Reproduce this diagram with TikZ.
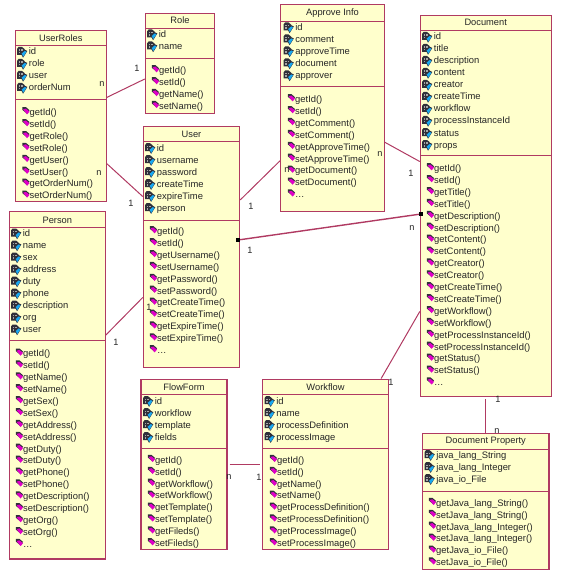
\documentclass[tikz,border=0pt]{standalone}
\usepackage{fontspec}
\setmainfont{Liberation Sans}
\definecolor{umlline}{HTML}{B03A62}
\definecolor{umlfill}{HTML}{FFFFCC}
\definecolor{icondark}{HTML}{30303A}
\definecolor{iconcyan}{HTML}{18A8F0}
\definecolor{iconpink}{HTML}{E000C8}
\tikzset{
  classbox/.style={draw=umlline,fill=umlfill,line width=1.1pt,inner sep=0pt},
  divider/.style={draw=umlline,line width=1pt},
  assoc/.style={draw=umlline,line width=1pt},
  classname/.style={font=\fontsize{9.3}{11}\selectfont,text=black!85,inner sep=0pt},
  rowtext/.style={anchor=west,font=\fontsize{9.4}{11}\selectfont,text=black!85,inner sep=0pt,text height=7pt,text depth=2pt},
  mult/.style={font=\fontsize{9.2}{11}\selectfont,text=black!85,inner sep=0pt},
  endsq/.style={fill=black,inner sep=0pt,minimum size=4pt},
  pics/attricon/.style={code={
    \fill[icondark] (-5.5,-3.5) -- (-4,-5.5) -- (-0.5,-5.5) -- (2,-3.5) -- (2,2.5) -- (-5.5,2.5) -- cycle;
    \fill[black!35] (-4,-3.2) rectangle (-2.4,-1.6);
    \fill[black!35] (-1.4,-3.2) rectangle (0.2,-1.6);
    \fill[black!35] (-4,-0.6) rectangle (-2.4,1);
    \fill[icondark] (-2,0.5) -- (2,-3) -- (4.8,-1.5) -- (0.6,5.2) -- cycle;
    \fill[iconcyan] (-0.8,1) -- (2.2,-1.6) -- (4,-0.8) -- (0.8,4.2) -- cycle;
  }},
  pics/opericon/.style={code={
    \fill[icondark] (-3,-5.8) -- (0.5,-5.8) -- (4,-2.8) -- (1.4,0.6) -- (-3.2,-3.2) -- cycle;
    \fill[iconpink] (-2.4,-3.6) -- (0.4,-4.4) -- (4,-1.4) -- (1.6,1.4) -- cycle;
  }}
}
\newcommand{\attrrows}[4]{%
  \foreach \rowtext [count=\rowi] in {#4} {
    \pic at (#2,{#3+12*(\rowi-1)}) {attricon};
    \node[rowtext] (#1a\rowi) at (#2+6.2,{#3+12*(\rowi-1)}) {\rowtext};
  }}
\newcommand{\operrows}[4]{%
  \foreach \rowtext [count=\rowi] in {#4} {
    \pic at (#2,{#3+11.9*(\rowi-1)}) {opericon};
    \node[rowtext] (#1o\rowi) at (#2+4,{#3+11.9*(\rowi-1)}) {\rowtext};
  }}
\begin{document}
\begin{tikzpicture}[x=1pt,y=-1pt]
  \useasboundingbox (0,0) rectangle (562,575);
  % this one is partly hidden by the box below it
  \node[mult] (mdocpropn) at (497,431) {n};
  % classes
  \node[classbox,minimum width=91pt,minimum height=171.4pt] (userroles) at (60.8,116) {};
  \node[classbox,minimum width=69.4pt,minimum height=100pt] (role) at (180,63.3) {};
  \node[classbox,minimum width=96.4pt,minimum height=241.4pt] (user) at (191.5,247) {};
  \node[classbox,minimum width=103.6pt,minimum height=206.7pt] (approveinfo) at (332.5,108.3) {};
  \node[classbox,minimum width=130.7pt,minimum height=381.4pt] (document) at (485.7,206) {};
  \node[classbox,minimum width=96pt,minimum height=347.3pt] (person) at (57.3,385.3) {};
  \node[classbox,minimum width=86pt,minimum height=170.3pt] (flowform) at (184,464.2) {};
  \node[classbox,minimum width=125.6pt,minimum height=170.3pt] (workflow) at (325.5,464.2) {};
  \node[classbox,minimum width=126.3pt,minimum height=136pt] (docproperty) at (485.8,501.3) {};
  % compartments
  \foreach \cname/\ya/\yb in {userroles/46/99.3,role/28.3/58.7,user/141.7/220,approveinfo/21.3/86.3,document/30.3/155.3,person/227.3/340.7,flowform/394/448.3,workflow/394/448.3,docproperty/449/491.3} {
    \draw[divider] (\cname.west |- 0,\ya) -- (\cname.east |- 0,\ya);
    \draw[divider] (\cname.west |- 0,\yb) -- (\cname.east |- 0,\yb);
  }
  % titles
  \node[classname] (userrolesname) at (60.8,38) {UserRoles};
  \node[classname] (rolename) at (180,20.5) {Role};
  \node[classname] (username) at (191.5,134) {User};
  \node[classname] (approveinfoname) at (332.5,13.5) {Approve Info};
  \node[classname] (documentname) at (485.7,22.5) {Document};
  \node[classname] (personname) at (57.3,220) {Person};
  \node[classname] (flowformname) at (184,386.7) {FlowForm};
  \node[classname] (workflowname) at (325.5,386.7) {Workflow};
  \node[classname] (docpropertyname) at (485.8,441.7) {Document Property};
  % attributes and operations
  \attrrows{userroles}{22.5}{52.5}{id,role,user,orderNum}
  \operrows{userroles}{25.5}{113}{getId(),setId(),getRole(),setRole(),getUser(),setUser(),getOrderNum(),setOrderNum()}
  \attrrows{role}{152.5}{35}{id,name}
  \operrows{role}{155}{71}{getId(),setId(),getName(),setName()}
  \attrrows{user}{150.5}{148.7}{id,username,password,createTime,expireTime,person}
  \operrows{user}{153}{232}{getId(),setId(),getUsername(),setUsername(),getPassword(),setPassword(),getCreateTime(),setCreateTime(),getExpireTime(),setExpireTime(),\ldots}
  \attrrows{approveinfo}{289}{28}{id,comment,approveTime,document,approver}
  \operrows{approveinfo}{291}{100}{getId(),setId(),getComment(),setComment(),getApproveTime(),setApproveTime(),getDocument(),setDocument(),\ldots}
  \attrrows{document}{427.5}{37.5}{id,title,description,content,creator,createTime,workflow,processInstanceId,status,props}
  \operrows{document}{430}{169}{getId(),setId(),getTitle(),setTitle(),getDescription(),setDescription(),getContent(),setContent(),getCreator(),setCreator(),getCreateTime(),setCreateTime(),getWorkflow(),setWorkflow(),getProcessInstanceId(),setProcessInstanceId(),getStatus(),setStatus(),\ldots}
  \attrrows{person}{16.5}{234}{id,name,sex,address,duty,phone,description,org,user}
  \operrows{person}{19}{354.3}{getId(),setId(),getName(),setName(),getSex(),setSex(),getAddress(),setAddress(),getDuty(),setDuty(),getPhone(),setPhone(),getDescription(),setDescription(),getOrg(),setOrg(),\ldots}
  \attrrows{flowform}{148.5}{401.7}{id,workflow,template,fields}
  \operrows{flowform}{151}{460.7}{getId(),setId(),getWorkflow(),setWorkflow(),getTemplate(),setTemplate(),getFileds(),setFileds()}
  \attrrows{workflow}{270}{401.7}{id,name,processDefinition,processImage}
  \operrows{workflow}{273}{460.7}{getId(),setId(),getName(),setName(),getProcessDefinition(),setProcessDefinition(),getProcessImage(),setProcessImage()}
  \attrrows{docproperty}{430}{455.7}{java\_lang\_String,java\_lang\_Integer,java\_io\_File}
  \operrows{docproperty}{432}{503.7}{getJava\_lang\_String(),setJava\_lang\_String(),getJava\_lang\_Integer(),setJava\_lang\_Integer(),getJava\_io\_File(),setJava\_io\_File()}
  % associations
  \draw[assoc] (userroles.22) -- (role.204.6);
  \draw[assoc] (userroles.-46.2) -- (user.134.1);
  \draw[assoc] (user.44.7) -- (approveinfo.225);
  \draw[assoc] (approveinfo.-33.9) -- (document.146.7);
  \draw[assoc] (person.46.5) -- (user.226.4);
  \draw[assoc,shorten <=2pt,shorten >=2pt] (flowform.east) -- (workflow.west);
  \draw[assoc] (workflow.57.3) -- (document.238.3);
  \draw[assoc,shorten <=2pt] (document.south) -- (document.south |- docproperty.north);
  \node[endsq] (usersq) at (238,240) {};
  \node[endsq] (documentsq) at (421,214) {};
  \draw[assoc,line width=1.4pt] (usersq) -- (documentsq);
  % multiplicities
  \node[mult] (m1) at (102,84) {n};
  \node[mult] (m2) at (137,68) {1};
  \node[mult] (m3) at (99,173) {n};
  \node[mult] (m4) at (131,203) {1};
  \node[mult] (m5) at (251,206) {1};
  \node[mult] (m6) at (287,170) {n};
  \node[mult] (m7) at (380,154) {n};
  \node[mult] (m8) at (411,173) {1};
  \node[mult] (m9) at (412,228) {n};
  \node[mult] (m10) at (250,250) {1};
  \node[mult] (m11) at (116,342) {1};
  \node[mult] (m12) at (149,307) {1};
  \node[mult] (m13) at (229,477) {n};
  \node[mult] (m14) at (259,477) {1};
  \node[mult] (m15) at (391,382) {1};
  \node[mult] (m16) at (498,399) {1};
\end{tikzpicture}
\end{document}
